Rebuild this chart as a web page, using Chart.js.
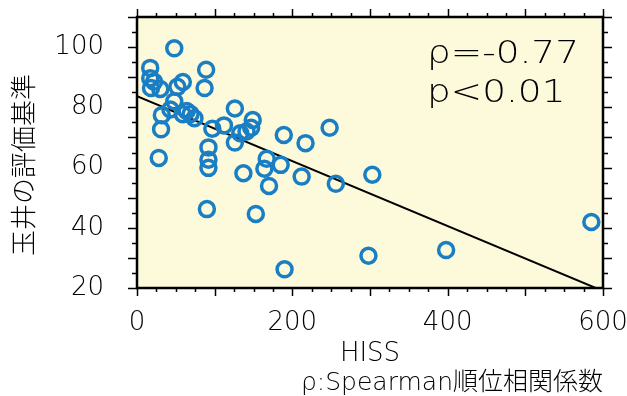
<!DOCTYPE html>
<html><head><meta charset="utf-8">
<script src="https://cdn.jsdelivr.net/npm/chart.js@4/dist/chart.umd.min.js"></script>
<style>html,body{margin:0;padding:0;background:#fff}</style>
</head><body>
<canvas id="c" width="627" height="396" style="display:block;width:627px;height:396px"></canvas>
<script>
// ---- data ----
const hiss  = [17,17,22,18,30,48,59,52,89,87,48,43,32,64,69,74,59,31,97,112,126,149,147,133,141,126,92,189,217,248,28,92,92,137,167,164,170,185,212,256,303,90,153,190,298,398,585];
const score = [93.1,89.7,88.5,86.4,86.1,99.6,88.4,86.8,92.5,86.4,82.0,79.3,77.4,78.8,77.8,76.4,77.7,72.7,72.9,74.0,79.6,75.8,73.2,71.4,72.0,68.3,66.7,70.8,68.1,73.2,63.2,62.6,59.9,58.1,62.9,59.6,53.9,60.9,57.0,54.6,57.6,46.2,44.6,26.2,30.7,32.6,41.9];
const fitX = [0, 600];
const fitY = [83.7, 19.0];
const xTickLabels = [0, 200, 400, 600];
const yTickLabels = [20, 40, 60, 80, 100];
const xRange = [0, 600];
const yRange = [20, 110];
const xMinorStep = 25, xMajorStep = 100;
const yMinorStep = 5,  yMajorStep = 10;
const yTitle = '玉井の評価基準';
const xTitle = 'HISS';
const note = 'ρ:Spearman順位相関係数';
const statLines = ['ρ=-0.77', 'p<0.01'];

const LATIN = '"DejaVu Sans", "Noto Sans CJK JP", sans-serif';
const CJK = '"Noto Sans CJK JP", "DejaVu Sans", sans-serif';
const W = 200;
const TXT = '#000';

const noPad = s => { s.paddingTop = 0; s.paddingBottom = 0; s.paddingLeft = 0; s.paddingRight = 0; };

const decor = {
  id: 'decor',
  beforeDraw(chart) {
    const {ctx, chartArea: a} = chart;
    ctx.save();
    ctx.fillStyle = '#fdf9db';
    ctx.fillRect(a.left, a.top, a.right - a.left, a.bottom - a.top);
    ctx.restore();
  },
  afterDatasetsDraw(chart) {
    const {ctx, chartArea: a, scales} = chart;
    const xs = scales.x, ys = scales.y;
    ctx.save();
    ctx.strokeStyle = '#000';
    ctx.lineWidth = 1.5;
    ctx.beginPath();
    for (let v = xRange[0]; v <= xRange[1]; v += xMinorStep) {
      const px = Math.round(xs.getPixelForValue(v)) + 0.5;
      const len = (v % xMajorStep === 0) ? 8 : 4;
      ctx.moveTo(px, a.bottom); ctx.lineTo(px, a.bottom + len);
      ctx.moveTo(px, a.top); ctx.lineTo(px, a.top - len);
    }
    for (let v = yRange[0]; v <= yRange[1]; v += yMinorStep) {
      const py = Math.round(ys.getPixelForValue(v)) + 0.5;
      const len = (v % yMajorStep === 0) ? 9 : 5;
      ctx.moveTo(a.left, py); ctx.lineTo(a.left - len, py);
      ctx.moveTo(a.right, py); ctx.lineTo(a.right + len, py);
    }
    ctx.stroke();
    ctx.lineWidth = 2.5;
    ctx.strokeRect(a.left, a.top, a.right - a.left, a.bottom - a.top);

    // statistics text (horizontally widened like the reference's rounded font)
    ctx.fillStyle = TXT;
    ctx.font = W + ' 32px ' + LATIN;
    ctx.textAlign = 'left';
    ctx.textBaseline = 'alphabetic';
    ctx.save();
    ctx.translate(427, 0);
    ctx.scale(1.17, 1);
    ctx.fillText(statLines[0], 0, 63);
    ctx.fillText(statLines[1], 0, 102);
    ctx.restore();

    // y-axis title
    ctx.translate(23, 165);
    ctx.rotate(-Math.PI / 2);
    ctx.font = '300 26px ' + CJK;
    ctx.textAlign = 'center';
    ctx.textBaseline = 'middle';
    ctx.fillText(yTitle, 0, 0);
    ctx.restore();
  }
};

new Chart(document.getElementById('c'), {
  data: {
    datasets: [
      {
        type: 'scatter',
        data: hiss.map((x, i) => ({x, y: score[i]})),
        pointStyle: 'circle',
        pointRadius: 7.5,
        pointHoverRadius: 7.5,
        borderWidth: 3.5,
        borderColor: '#1a7ec4',
        backgroundColor: 'rgba(0,0,0,0)'
      },
      {
        type: 'line',
        data: fitX.map((x, i) => ({x, y: fitY[i]})),
        borderColor: '#000',
        borderWidth: 2,
        pointRadius: 0,
        fill: false
      }
    ]
  },
  options: {
    responsive: false,
    animation: false,
    devicePixelRatio: 1,
    layout: { padding: { top: 17, right: 24, bottom: 0, left: 0 } },
    plugins: {
      legend: { display: false },
      tooltip: { enabled: false },
      subtitle: {
        display: true,
        position: 'bottom',
        align: 'end',
        text: note,
        color: TXT,
        font: { size: 25, family: LATIN, lineHeight: 1, weight: W },
        padding: { top: 4, bottom: 0 }
      }
    },
    scales: {
      x: {
        type: 'linear',
        position: 'bottom',
        min: xRange[0], max: xRange[1],
        afterBuildTicks: s => { s.ticks = xTickLabels.map(v => ({value: v})); },
        afterFit: s => { s.height = 79; noPad(s); },
        grid: { display: false, drawTicks: false },
        border: { display: false },
        ticks: { color: TXT, padding: 20, maxRotation: 0, font: { size: 26, family: LATIN, weight: W } },
        title: { display: true, text: xTitle, color: TXT, font: { size: 26, family: LATIN, lineHeight: 1, weight: W }, padding: { top: 0, bottom: 0 } }
      },
      y: {
        type: 'linear',
        position: 'left',
        min: yRange[0], max: yRange[1],
        afterBuildTicks: s => { s.ticks = yTickLabels.map(v => ({value: v})); },
        afterFit: s => { s.width = 137; noPad(s); },
        grid: { display: false, drawTicks: false },
        border: { display: false },
        ticks: { color: TXT, padding: 33, font: { size: 26, family: LATIN, weight: W } }
      }
    }
  },
  plugins: [decor]
});
</script>
</body></html>
